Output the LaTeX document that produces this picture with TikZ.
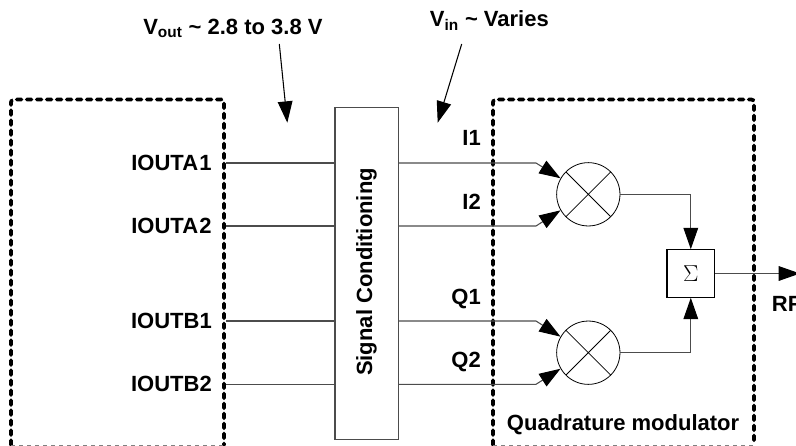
\documentclass[tikz,border=0pt]{standalone}
\usepackage{fontspec}
\setmainfont{Liberation Sans}
\usetikzlibrary{arrows.meta}
\tikzset{
  lab/.style={font=\fontsize{16.5}{18}\selectfont\bfseries, inner sep=0pt},
  wire/.style={black!70, line width=0.8pt},
  sig/.style={wire, -{Triangle[length=16pt,width=11pt,black]}},
  dotbox/.style={line width=2.8pt, dash pattern=on 3.6pt off 3.9pt, line cap=round, rounded corners=2pt},
  cutedge/.style={black!50, line width=0.7pt, dashed},
  mixer/.style={circle, draw, line width=0.6pt, minimum size=47.5pt, inner sep=0pt,
    path picture={\draw[line width=0.6pt] (path picture bounding box.north west) -- (path picture bounding box.south east)
      (path picture bounding box.north east) -- (path picture bounding box.south west);}},
}
\begin{document}
\begin{tikzpicture}[x=0.75pt, y=-0.75pt]
  \clip (0,0) rectangle (796,446);
  % dotted outlines, cut by the lower edge
  \draw[dotbox] (11,445) -- (11,99.5) -- (224,99.5) -- (224,445);
  \draw[dotbox] (493,445) -- (493,99.5) -- (754,99.5) -- (754,445);
  \draw[cutedge] (11,445) -- (224,445);
  \draw[cutedge] (493,445) -- (754,445);

  \node[draw=black!70, line width=0.8pt, minimum width=47.6pt, minimum height=249.2pt, inner sep=0pt] (sc) at (366.75,273.6) {};
  \node[lab, rotate=90, anchor=base] (sclab) at (372,272) {Signal Conditioning};
  \node[mixer] (mixi) at (588.3,194.3) {};
  \node[mixer] (mixq) at (588.3,352.7) {};
  \node[draw, line width=0.8pt, minimum size=35.7pt, inner sep=0pt, font=\fontsize{17}{18}\selectfont] (sum) at (690.8,273.5) {$\Sigma$};

  % ports on the left block, then the signals past the conditioning block
  \foreach \name/\lab/\y/\base in {ai/IOUTA\kern1pt 1/163/170, aq/IOUTA\kern1pt 2/226/233, bi/IOUTB1/321/328, bq/IOUTB2/384.3/391}
    { \node[lab, anchor=base east] (\name lab) at (212,\base) {\lab};
      \coordinate (\name) at (226,\y);
      \draw[wire] (\name) -- (sc.west |- \name); }
  \foreach \name/\lab/\y/\base in {ai/I1/163/145.7, aq/I2/226/209, bi/Q1/321/304, bq/Q2/384.3/367}
    { \node[lab, anchor=base east] (\name out) at (481,\base) {\lab};
      \coordinate (\name b) at (536,\y); }

  \draw[sig] (sc.east |- aib) -- (aib) -- (mixi.150);
  \draw[sig] (sc.east |- aqb) -- (aqb) -- (mixi.210);
  \draw[sig] (sc.east |- bib) -- (bib) -- (mixq.150);
  \draw[sig] (sc.east |- bqb) -- (bqb) -- (mixq.210);

  \draw[sig] (mixi.east) -| (sum.north);
  \draw[sig] (mixq.east) -| (sum.south);
  \coordinate (rfend) at (800,273.5);
  \draw[sig] (sum.east) -- (rfend);
  \node[lab, anchor=base west] (rf) at (771.7,311) {RF};
  \node[lab, anchor=base west] (qm) at (506.7,430) {Quadrature modulator};

  \node[lab, anchor=base west] (vout) at (143,34) {V\textsubscript{out} \textasciitilde{} 2.8 to 3.8 V};
  \node[lab, anchor=base west] (vin) at (429.6,26.7) {V\textsubscript{in} \textasciitilde{} Varies};
  \coordinate (voutfrom) at (279.3,44);
  \coordinate (voutto) at (287.3,122.7);
  \coordinate (vinfrom) at (461.7,44);
  \coordinate (vinto) at (437.7,122.7);
  \draw[sig, black] (voutfrom) -- (voutto);
  \draw[sig, black] (vinfrom) -- (vinto);
\end{tikzpicture}
\end{document}
